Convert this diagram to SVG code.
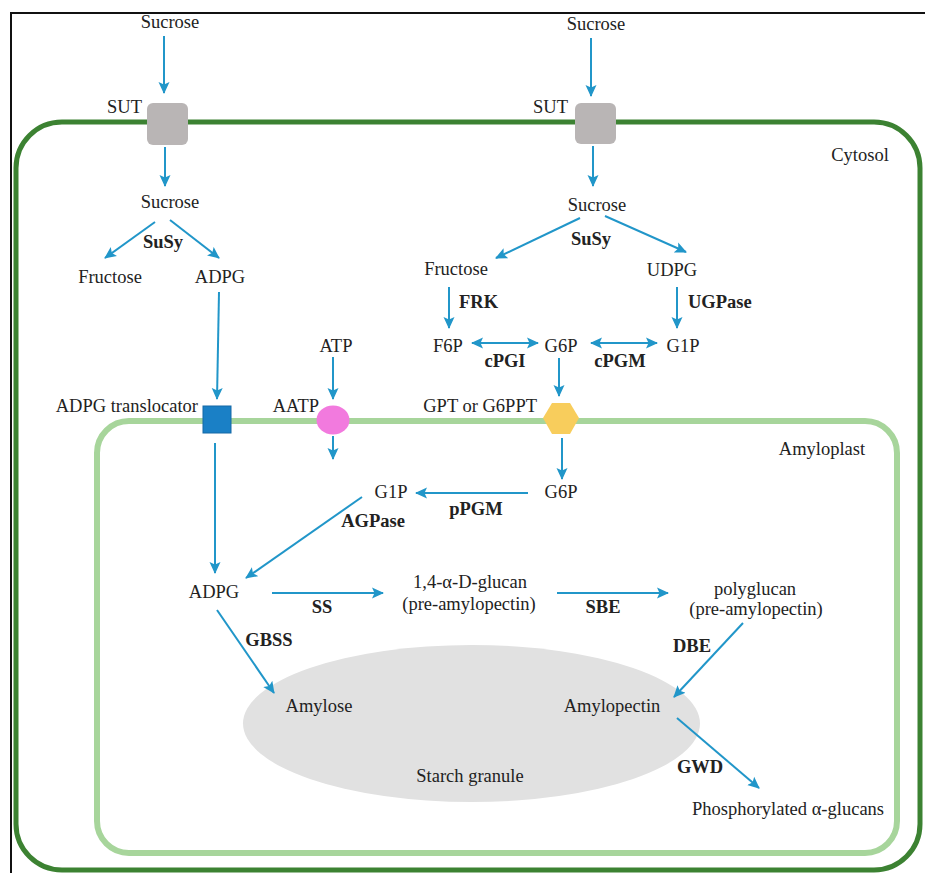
<svg xmlns="http://www.w3.org/2000/svg" width="925" height="873" viewBox="0 0 925 873">
<defs>
<marker id="ah" markerUnits="userSpaceOnUse" markerWidth="12" markerHeight="12" viewBox="0 0 12 12" refX="11" refY="6" orient="auto-start-reverse">
<path d="M0,0.5 L12,6 L0,11.5 L2.5,6 z" fill="#2196c9"/>
</marker>
</defs>
<style>
text{font-family:"Liberation Serif","Times New Roman",serif;font-size:18.5px;fill:#222;}
.b{font-weight:bold;}
.m{text-anchor:middle;}
.e{text-anchor:end;}
.c line,.c path{stroke:#2196c9;stroke-width:2;fill:none;marker-end:url(#ah);}
.c .d{marker-start:url(#ah);}
</style>
<rect width="925" height="873" fill="#fff"/>
<rect x="11" y="13" width="960" height="900" fill="none" stroke="#111" stroke-width="2"/>
<g id="cytosol">
<rect x="16" y="122" width="904" height="748" rx="46" fill="none" stroke="#3c8232" stroke-width="5"/>
<text x="860" y="161" class="m">Cytosol</text>
</g>
<g id="amyloplast">
<rect x="97" y="421" width="800" height="432" rx="32" fill="none" stroke="#a7d59b" stroke-width="6"/>
<text x="822" y="455" class="m">Amyloplast</text>
</g>
<g id="starch-granule">
<ellipse cx="471.5" cy="723.5" rx="228.5" ry="78.5" fill="#e1e1e1"/>
<text x="470" y="782" class="m">Starch granule</text>
</g>
<g id="connectors" class="c">
<line x1="164" y1="36" x2="164" y2="93"/>
<line x1="165" y1="147" x2="165" y2="186"/>
<line x1="155" y1="222" x2="105" y2="258"/>
<line x1="170" y1="220" x2="219" y2="258"/>
<line x1="219" y1="292" x2="217" y2="399"/>
<line x1="215" y1="443" x2="215" y2="573"/>
<line x1="362" y1="497" x2="246" y2="578"/>
<line x1="528" y1="493" x2="416" y2="493"/>
<line x1="562" y1="438" x2="562" y2="479"/>
<line x1="559" y1="358" x2="559" y2="396"/>
<line class="d" x1="472" y1="343" x2="538" y2="343"/>
<line class="d" x1="591" y1="343" x2="657" y2="343"/>
<line x1="449" y1="287" x2="449" y2="328"/>
<line x1="677" y1="287" x2="677" y2="328"/>
<line x1="580" y1="218" x2="496" y2="258"/>
<line x1="605" y1="216" x2="686" y2="252"/>
<line x1="591" y1="38" x2="591" y2="96"/>
<line x1="593" y1="146" x2="593" y2="186"/>
<line x1="333" y1="357" x2="333" y2="399"/>
<line x1="333" y1="436" x2="333" y2="459"/>
<line x1="272" y1="593" x2="383" y2="593"/>
<line x1="557" y1="593" x2="668" y2="593"/>
<line x1="743" y1="623" x2="674" y2="697"/>
<line x1="677" y1="718" x2="759" y2="788"/>
<line x1="217" y1="610" x2="274" y2="693"/>
</g>
<g id="sucrose-out-left"><text x="170" y="28" class="m">Sucrose</text></g>
<g id="sut-left">
<rect x="147" y="103" width="41" height="42" rx="6" fill="#b9b5b5"/>
<text x="142" y="113" class="e">SUT</text>
</g>
<g id="sucrose-in-left"><text x="170" y="208" class="m">Sucrose</text></g>
<g id="susy-left"><text x="163" y="248" class="m b">SuSy</text></g>
<g id="fructose-left"><text x="110" y="283" class="m">Fructose</text></g>
<g id="adpg-cyt"><text x="220" y="283" class="m">ADPG</text></g>
<g id="adpg-translocator">
<rect x="203" y="406" width="28" height="27" fill="#1a80c6" stroke="#1468a6" stroke-width="1"/>
<text x="198" y="412" class="e">ADPG translocator</text>
</g>
<g id="atp"><text x="336" y="352" class="m">ATP</text></g>
<g id="aatp">
<ellipse cx="333" cy="420" rx="16.5" ry="14.5" fill="#f27ade"/>
<text x="319" y="412" class="e">AATP</text>
</g>
<g id="sucrose-out-right"><text x="596" y="30" class="m">Sucrose</text></g>
<g id="sut-right">
<rect x="575" y="103" width="41" height="41" rx="6" fill="#b9b5b5"/>
<text x="568" y="113" class="e">SUT</text>
</g>
<g id="sucrose-in-right"><text x="597" y="211" class="m">Sucrose</text></g>
<g id="susy-right"><text x="591" y="245" class="m b">SuSy</text></g>
<g id="fructose-right"><text x="456" y="275" class="m">Fructose</text></g>
<g id="udpg"><text x="672" y="276" class="m">UDPG</text></g>
<g id="frk"><text x="459" y="308" class="b">FRK</text></g>
<g id="ugpase"><text x="688" y="308" class="b">UGPase</text></g>
<g id="f6p"><text x="448" y="352" class="m">F6P</text></g>
<g id="g6p-cyt"><text x="561" y="352" class="m">G6P</text></g>
<g id="g1p-cyt"><text x="683" y="352" class="m">G1P</text></g>
<g id="cpgi"><text x="505" y="367" class="m b">cPGI</text></g>
<g id="cpgm"><text x="620" y="367" class="m b">cPGM</text></g>
<g id="gpt">
<polygon points="543,418 552,403 570,403 579,418 570,434 552,434" fill="#f8cd5c"/>
<text x="537" y="412" class="e">GPT or G6PPT</text>
</g>
<g id="g6p-amy"><text x="561" y="498" class="m">G6P</text></g>
<g id="ppgm"><text x="476" y="515" class="m b">pPGM</text></g>
<g id="g1p-amy"><text x="391" y="498" class="m">G1P</text></g>
<g id="agpase"><text x="373" y="527" class="m b">AGPase</text></g>
<g id="adpg-amy"><text x="214" y="598" class="m">ADPG</text></g>
<g id="ss"><text x="322" y="613" class="m b">SS</text></g>
<g id="glucan">
<text x="470" y="588" class="m">1,4-α-D-glucan</text>
<text x="469" y="610" class="m">(pre-amylopectin)</text>
</g>
<g id="sbe"><text x="603" y="613" class="m b">SBE</text></g>
<g id="polyglucan">
<text x="755" y="595" class="m">polyglucan</text>
<text x="756" y="615" class="m">(pre-amylopectin)</text>
</g>
<g id="dbe"><text x="692" y="652" class="m b">DBE</text></g>
<g id="gbss"><text x="269" y="646" class="m b">GBSS</text></g>
<g id="amylose"><text x="319" y="712" class="m">Amylose</text></g>
<g id="amylopectin"><text x="612" y="712" class="m">Amylopectin</text></g>
<g id="gwd"><text x="700" y="773" class="m b">GWD</text></g>
<g id="phospho"><text x="788" y="815" class="m">Phosphorylated α-glucans</text></g>
</svg>
